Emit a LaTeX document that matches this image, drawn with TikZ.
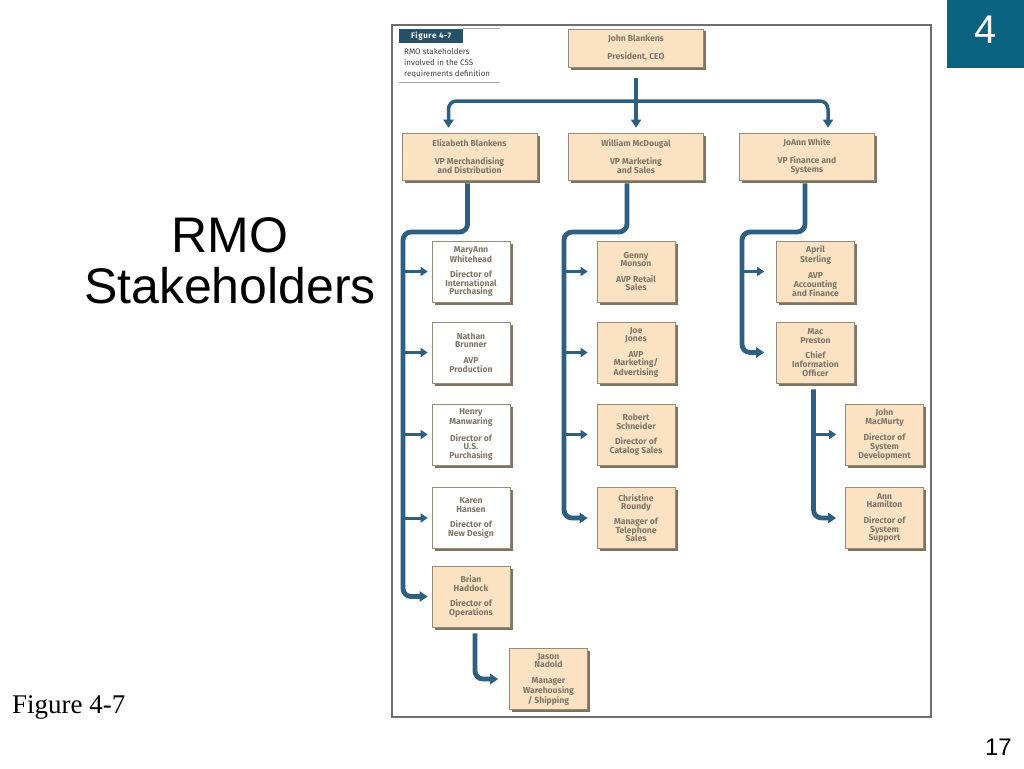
\documentclass[tikz,border=0pt]{standalone}
\usepackage{fontspec}
\setmainfont{Liberation Sans}
\newfontfamily\seriffont{Liberation Serif}
\newfontfamily\chartfont{Fira Sans}
\newfontfamily\tagfont[LetterSpace=8]{Fira Sans}
\usetikzlibrary{arrows.meta,shadows}

\definecolor{slideteal}{RGB}{8,98,128}
\definecolor{linkblue}{RGB}{45,95,128}
\definecolor{boxtan}{RGB}{250,226,195}
\definecolor{boxline}{RGB}{150,138,120}
\definecolor{boxshade}{RGB}{125,115,95}
\definecolor{boxtext}{RGB}{128,118,104}
\definecolor{framegray}{RGB}{110,110,110}
\definecolor{tagteal}{RGB}{38,82,105}

\tikzset{
  person/.style={rectangle, draw=boxline, line width=0.6pt, fill=boxtan, text=boxtext,
    inner sep=0pt, align=center, font=\chartfont\bfseries\fontsize{8.6}{8.6}\selectfont,
    drop shadow={shadow xshift=2.5pt, shadow yshift=-2.5pt, fill=boxshade, opacity=1}},
  vpbox/.style={person, minimum width=135pt, minimum height=47pt,
    font=\chartfont\bfseries\fontsize{8.6}{9.5}\selectfont},
  subbox/.style={person, minimum width=78pt, minimum height=61pt},
  plainbox/.style={subbox, fill=white},
  link/.style={draw=linkblue, line width=4.8pt, rounded corners=8pt,
    -{Triangle[width=10pt,length=8pt]}, shorten >=4pt},
  stub/.style={link, line width=3pt, -{Triangle[width=9pt,length=7pt]}}
}

\begin{document}
\begin{tikzpicture}[x=1pt, y=-1pt]
	%%%%% START %%%%%
	
	\fill[white] (0,0) rectangle (1024,768);
	\useasboundingbox (0,0) rectangle (1024,768);
	
	\node[fill=slideteal, minimum width=77pt, minimum height=68pt, inner sep=0pt, anchor=north east] (chaptertab) at (1024,0) {};
	\node[text=white, font=\fontsize{40}{40}\selectfont, anchor=base, inner sep=0pt] (chapnum) at (985.5,44) {4};
	
	\node[anchor=north, inner sep=0pt, align=center, font=\fontsize{50}{51}\selectfont] (title) at (230,217) {RMO\\Stakeholders};
	\node[anchor=base west, inner sep=0pt, font=\seriffont\fontsize{27}{27}\selectfont] (figref) at (12,713) {Figure 4-7};
	\node[anchor=base east, inner sep=0pt, font=\fontsize{24}{24}\selectfont] (pagenum) at (1012,755) {17};
	
	\draw[framegray, line width=1.3pt] (392,25) rectangle (931,717);
	
	\node[fill=tagteal, text=white, font=\tagfont\bfseries\fontsize{8}{8}\selectfont, minimum width=64pt, minimum height=14pt, inner sep=0pt, anchor=north west] (figtag) at (399,29) {Figure 4-7};
	\draw[framegray!60, line width=1pt] (figtag.north east) -- (500,29);
	\node[anchor=north west, align=left, inner sep=0pt, text=black!75, font=\chartfont\fontsize{8}{11}\selectfont] (figcap) at (404,48) {RMO stakeholders\\involved in the CSS\\requirements definition};
	\draw[framegray!60, line width=1pt] (399,82) -- (500,82);
	
	% top of the chart
	\node[vpbox, minimum height=38pt] (john) at (636,48) {John Blankens\\[8.5pt]President, CEO};
	\node[vpbox] (eliz) at (469.5,156.5) {Elizabeth Blankens\\[8.5pt]VP Merchandising\\and Distribution};
	\node[vpbox] (will) at (636,156.5) {William McDougal\\[8.5pt]VP Marketing\\and Sales};
	\node[vpbox] (joann) at (807,156.5) {JoAnn White\\[8.5pt]VP Finance and\\Systems};
	
	% merchandising and distribution
	\node[plainbox] (maryann) at (471,271.5) {MaryAnn\\Whitehead\\[7pt]Director of\\International\\Purchasing};
	\node[plainbox] (nathan) at (471,352.5) {Nathan\\Brunner\\[7pt]AVP\\Production};
	\node[plainbox] (henry) at (471,434.5) {Henry\\Manwaring\\[7pt]Director of\\U.S.\\Purchasing};
	\node[plainbox] (karen) at (471,518) {Karen\\Hansen\\[7pt]Director of\\New Design};
	\node[subbox] (brian) at (471,596.5) {Brian\\Haddock\\[7pt]Director of\\Operations};
	\node[subbox] (jason) at (548.5,679) {Jason\\Nadold\\[7pt]Manager\\Warehousing\\/ Shipping};
	
	% marketing and sales
	\node[subbox] (genny) at (636,271.5) {Genny\\Monson\\[7pt]AVP Retail\\Sales};
	\node[subbox] (joe) at (636,352.5) {Joe\\Jones\\[7pt]AVP\\Marketing/\\Advertising};
	\node[subbox] (robert) at (636,434.5) {Robert\\Schneider\\[7pt]Director of\\Catalog Sales};
	\node[subbox] (christine) at (636,518) {Christine\\Roundy\\[6pt]Manager of\\Telephone\\Sales};
	
	% finance and systems
	\node[subbox] (april) at (815.5,271.5) {April\\Sterling\\[7pt]AVP\\Accounting\\and Finance};
	\node[subbox] (mac) at (815.5,352.5) {Mac\\Preston\\[7pt]Chief\\Information\\Officer};
	\node[subbox] (jmac) at (884.5,434.5) {John\\MacMurty\\[7pt]Director of\\System\\Development};
	\node[subbox] (ann) at (884.5,518) {Ann\\Hamilton\\[7pt]Director of\\System\\Support};
	
	% connectors
	\coordinate (topbar) at (636,101);
	\draw[link, shorten <=11pt, shorten >=5pt] (john.south) -- (will.north);
	\draw[link, line width=3.5pt, shorten >=5pt] (john.south |- topbar) -| ([xshift=-21pt]eliz.north);
	\draw[link, line width=3.5pt, shorten >=5pt] (john.south |- topbar) -| ([xshift=21pt]joann.north);
	
	\coordinate (espine) at (403,232);
	\draw[link, shorten <=3pt] ([xshift=-2pt]eliz.south) |- (espine) |- (brian.west);
	\foreach \n in {maryann,nathan,henry,karen}
		\draw[stub] (espine |- \n.west) -- (\n.west);
	
	\coordinate (wspine) at (564,232);
	\draw[link, shorten <=3pt, shorten >=9pt] ([xshift=-9pt]will.south) |- (wspine) |- (christine.west);
	\foreach \n in {genny,joe,robert}
		\draw[stub, shorten >=9pt] (wspine |- \n.west) -- (\n.west);
	
	\coordinate (jspine) at (742,232);
	\draw[link, shorten <=3pt, shorten >=12pt] ([xshift=-2pt]joann.south) |- (jspine) |- (mac.west);
	\draw[stub, shorten >=12pt] (jspine |- april.west) -- (april.west);
	
	\draw[link, shorten <=6pt, shorten >=9pt] ([xshift=-2pt]mac.south) |- (ann.west);
	\draw[stub, shorten >=9pt] ([xshift=-2pt]mac.south |- jmac.west) -- (jmac.west);
	
	\draw[link, shorten <=6pt, shorten >=11pt] ([xshift=4pt]brian.south) |- (jason.west);
	
	%%%%% END %%%%%
\end{tikzpicture}
\end{document}
